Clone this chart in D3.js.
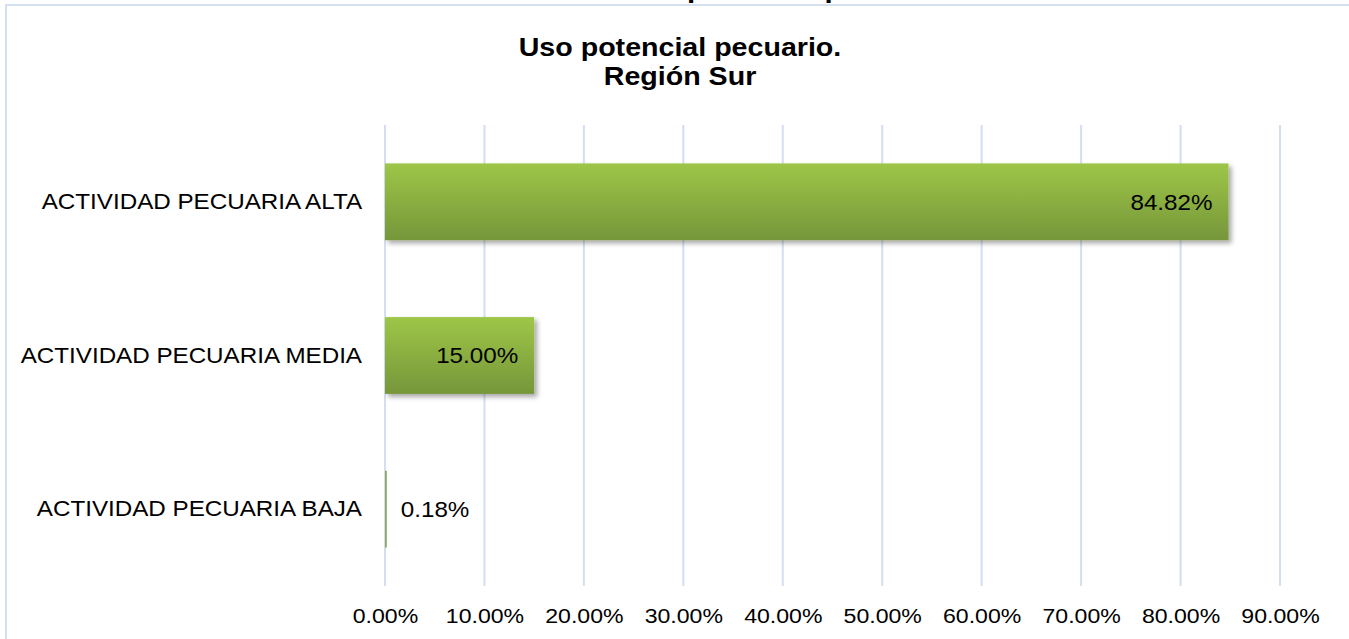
<!DOCTYPE html>
<html><head><meta charset="utf-8">
<script src="https://cdn.jsdelivr.net/npm/d3@7/dist/d3.min.js"></script>
<style>body{margin:0;background:#fff;overflow:hidden}svg{display:block;font-family:Arial,"Liberation Sans",sans-serif}</style>
</head><body><svg id="c" width="1349" height="639"></svg>
<script>
const categories = ["ACTIVIDAD PECUARIA ALTA", "ACTIVIDAD PECUARIA MEDIA", "ACTIVIDAD PECUARIA BAJA"];
const values = [84.82, 15.00, 0.18];
const valueLabels = ["84.82%", "15.00%", "0.18%"];
const ticks = [0, 10, 20, 30, 40, 50, 60, 70, 80, 90];
const titleLines = ["Uso potencial pecuario.", "Región Sur"];
const cutTitle = "Uso potencial pecuario";

const SX = 1.1; // horizontal stretch of the original picture's text
const svg = d3.select("#c");
const W = 1349, H = 639;
const m = {left: 385, right: 69, top: 125, bottom: 53};
const FONT = "Arial, 'Liberation Sans', sans-serif";

const defs = svg.append("defs");
const g1 = defs.append("linearGradient").attr("id","grn").attr("x1",0).attr("y1",0).attr("x2",0).attr("y2",1);
g1.append("stop").attr("offset","0%").attr("stop-color","#9ec647");
g1.append("stop").attr("offset","100%").attr("stop-color","#76963a");
const f = defs.append("filter").attr("id","sh").attr("x","-5%").attr("y","-10%").attr("width","115%").attr("height","140%");
f.append("feDropShadow").attr("dx",3).attr("dy",3).attr("stdDeviation",2.5).attr("flood-color","#000").attr("flood-opacity",0.35);

// cut-off text from previous chart at very top
svg.append("text").attr("x",623).attr("y",-3).attr("font-size",29.5).attr("font-weight","bold").attr("fill","#000").text(cutTitle);

// frame
svg.append("rect").attr("x",6).attr("y",5).attr("width",W+10).attr("height",H+10)
  .attr("fill","#fff").attr("stroke","#d5e0ef").attr("stroke-width",2);

const x = d3.scaleLinear().domain([0,90]).range([m.left, W - m.right]);
const y = d3.scaleBand().domain(categories).range([m.top, H - m.bottom]).paddingInner(0.5).paddingOuter(0.25);

// title
titleLines.forEach((t,i)=> svg.append("text")
  .attr("transform",`translate(680,${56 + i*29}) scale(${SX},1)`)
  .attr("text-anchor","middle").attr("font-size",26).attr("font-weight","bold").attr("fill","#000").text(t));

// gridlines
svg.append("g").selectAll("line").data(ticks).join("line")
  .attr("x1",d=>x(d)).attr("x2",d=>x(d)).attr("y1",m.top).attr("y2",H - m.bottom)
  .attr("stroke","#d3dff0").attr("stroke-width",2);

// x axis
const xa = svg.append("g").attr("transform",`translate(0,${H - m.bottom})`)
  .call(d3.axisBottom(x).tickValues(ticks).tickFormat(d=>d.toFixed(2)+"%").tickSize(0).tickPadding(22));
xa.select(".domain").remove();
xa.selectAll("text").attr("font-size",21).attr("fill","#000").attr("font-family",FONT)
  .attr("transform",`scale(${SX},1)`);

// y axis labels
const yp = 23;
const ya = svg.append("g").attr("transform",`translate(${m.left},0)`)
  .call(d3.axisLeft(y).tickSize(0).tickPadding(yp));
ya.select(".domain").remove();
ya.selectAll("text").attr("font-size",22).attr("fill","#000").attr("font-family",FONT)
  .attr("x",-yp/SX).attr("transform",`scale(${SX},1)`);

// bars
svg.append("g").selectAll("rect").data(values).join("rect")
  .attr("x",x(0)).attr("y",(d,i)=>y(categories[i]))
  .attr("width",d=>x(d)-x(0)).attr("height",y.bandwidth())
  .attr("fill",(d)=> d>1 ? "url(#grn)" : "#8aa860").attr("filter",(d)=> d>1 ? "url(#sh)" : null);

// value labels
svg.append("g").selectAll("text").data(values).join("text")
  .attr("transform",(d,i)=>`translate(${d>1 ? x(d)-16 : x(d)+14},${y(categories[i]) + y.bandwidth()/2}) scale(${SX},1)`)
  .attr("text-anchor",(d)=> d>1 ? "end" : "start")
  .attr("dy","0.35em").attr("font-size",22).attr("fill","#000")
  .text((d,i)=>valueLabels[i]);
</script></body></html>
